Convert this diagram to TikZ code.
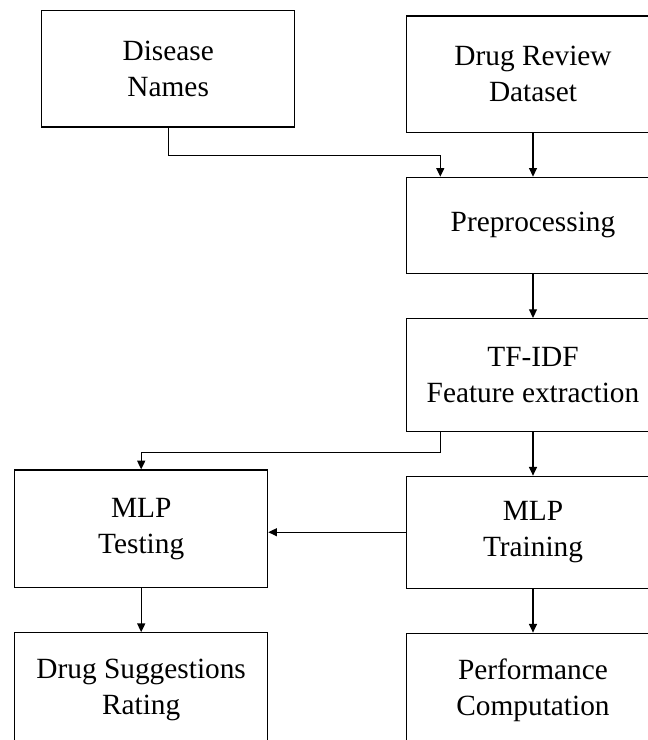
\documentclass[tikz,border=0pt]{standalone}
\usepackage{fontspec}
\setmainfont{Liberation Serif}
\usepackage{tikz}
\usetikzlibrary{positioning,arrows.meta}
\tikzset{node distance=32.85pt,
  box/.style={draw, line width=0.9pt, minimum width=189.75pt, align=center,
    font=\fontsize{22}{27}\selectfont},
  arr/.style={line width=0.9pt, -{Triangle[length=6.5pt,width=6pt]}}}

\begin{document}
\begin{tikzpicture}[x=0.75pt, y=-0.75pt]
      \useasboundingbox (0,0) rectangle (648,740);
      \clip (0,0) rectangle (648,740);
      \node[box, minimum height=87.2pt]  (DN)  at (168.2,68.85) {Disease\\Names};
      \node[box, minimum height=87.2pt]  (DRD) at (533,74.15) {Drug Review\\Dataset};
      \node[box, minimum height=72.2pt]  (PP)  [below=of DRD] {Preprocessing};
      \node[box, minimum height=84.5pt]  (TF)  [below=of PP] {TF-IDF\\Feature extraction};
      \node[box, minimum height=84pt]    (TR)  [below=of TF] {MLP\\Training};
      \node[box, minimum height=86.25pt] (PC)  [below=of TR] {Performance\\Computation};
      \node[box, minimum height=88.3pt]  (TE)  at (141.2,528.85) {MLP\\Testing};
      \node[box, minimum height=86.25pt] (DS)  [below=of TE] {Drug Suggestions\\Rating};

      \coordinate (J1) at (440.3,155.3);
      \coordinate (J2) at (440.3,452.7);

      \draw[arr] (DN.south) |- (J1) -- (J1 |- PP.north);
      \draw[arr] (DRD) to (PP);
      \draw[arr] (PP) to (TF);
      \draw[arr] (J2 |- TF.south) -- (J2) -| (TE.north);
      \draw[arr] (TF) to (TR);
      \draw[arr] (TR.west) to (TR.west -| TE.east);
      \draw[arr] (TE) to (DS);
      \draw[arr] (TR) to (PC);
    \end{tikzpicture}
\end{document}
